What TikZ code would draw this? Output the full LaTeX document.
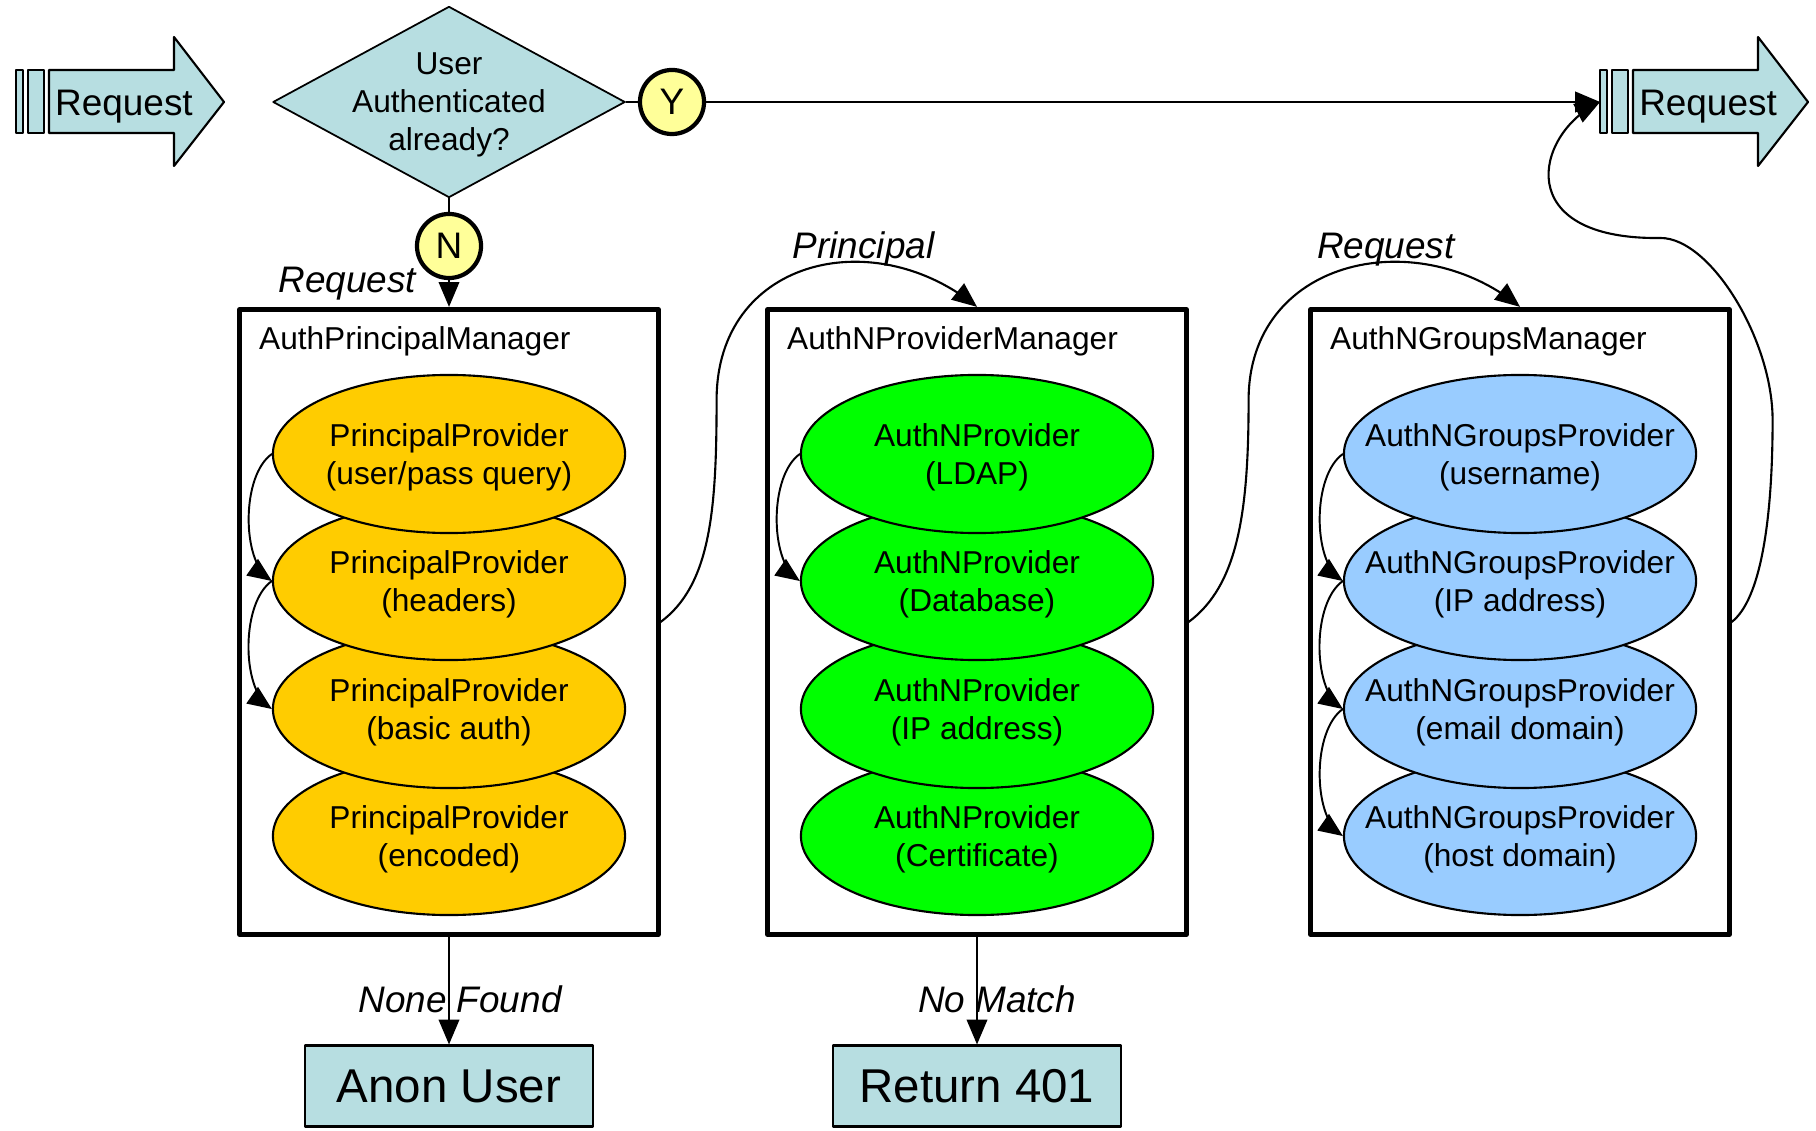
\documentclass[tikz,border=0pt]{standalone}
\usepackage{fontspec}
\setmainfont{Liberation Sans}
\usepackage{tikz}
\usetikzlibrary{arrows}
\usetikzlibrary{shapes}
\usetikzlibrary{positioning}
\usetikzlibrary{calc}

\definecolor{ReqTeal}{HTML}{B7DEE1}
\definecolor{PrinGold}{HTML}{FFCC00}
\definecolor{ProvGreen}{HTML}{00FF00}
\definecolor{GroupBlue}{HTML}{99CCFF}
\definecolor{PaleYellow}{HTML}{FFFF99}

\tikzset{
  reqshape/.style={draw=black,fill=ReqTeal,line width=0.6pt},
  reqtext/.style={inner sep=0pt,font=\fontsize{10.5}{12.6}\selectfont},
  decision/.style={diamond,draw=black,fill=ReqTeal,line width=0.5pt,aspect=1.84,
    minimum width=3.52cm,minimum height=1.91cm,inner sep=-4pt,text depth=-0.4pt,align=center,
    font=\fontsize{9}{10.8}\selectfont},
  yn/.style={circle,draw=black,fill=PaleYellow,line width=1.2pt,minimum size=0.64cm,
    inner sep=0pt,font=\fontsize{10.5}{12.6}\selectfont},
  mgr/.style={draw=black,fill=white,line width=1.4pt,minimum width=4.18cm,minimum height=6.25cm},
  mgrtitle/.style={anchor=west,inner sep=0pt,xshift=0.21cm,yshift=-0.345cm,
    font=\fontsize{9}{10.8}\selectfont},
  prov/.style={ellipse,draw=black,line width=0.6pt,minimum width=3.52cm,minimum height=1.58cm,
    inner xsep=-12pt,inner ysep=0pt,text depth=-1.4pt,align=center,font=\fontsize{9}{10.8}\selectfont},
  result/.style={draw=black,fill=ReqTeal,line width=0.6pt,minimum width=2.88cm,
    minimum height=0.81cm,font=\fontsize{13.5}{16}\selectfont},
  conn/.style={->,line width=0.6pt},
  link/.style={->,line width=0.55pt,looseness=0.75},
  elabel/.style={inner sep=0pt,font=\fontsize{10.5}{12.6}\selectfont\itshape}
}

\newcommand{\reqarrow}[2]{%
  \begin{scope}[shift={(#1,0)}]
    \draw[reqshape] (16,70) rectangle (23,133);
    \draw[reqshape] (28,70) rectangle (44,133);
    \draw[reqshape] (49,70) -- (174,70) -- (174,37) -- (224,102) -- (174,166) -- (174,133) -- (49,133) -- cycle;
    \node[reqtext] (#2) at (124,107) {Request};
    \coordinate (#2-in) at (16,102);
  \end{scope}}

\begin{document}
\begin{tikzpicture}[line cap=round,line join=round,>=triangle 45,x=0.01cm,y=-0.01cm]
\useasboundingbox (0,0) rectangle (1816,1131);
\reqarrow{0}{reqin}
\reqarrow{1584}{reqout}
\node[decision] (auth) at (449,102) {User\\Authenticated\\already?};
\node[yn] (yes) at (672,102) {Y};
\node[yn] (no) at (449,246) {N};
\node[mgr,label={[mgrtitle]north west:AuthPrincipalManager}] (apm) at (449,622) {};
\node[mgr,label={[mgrtitle]north west:AuthNProviderManager}] (npm) at (977,622) {};
\node[mgr,label={[mgrtitle]north west:AuthNGroupsManager}] (gpm) at (1520,622) {};
% providers, bottom one first
\node[prov,fill=PrinGold] (pp4) at (449,836) {PrincipalProvider\\(encoded)};
\node[prov,fill=PrinGold] (pp3) at (449,709) {PrincipalProvider\\(basic auth)};
\node[prov,fill=PrinGold] (pp2) at (449,581) {PrincipalProvider\\(headers)};
\node[prov,fill=PrinGold] (pp1) at (449,454) {PrincipalProvider\\(user/pass query)};
\node[prov,fill=ProvGreen] (np4) at (977,836) {AuthNProvider\\(Certificate)};
\node[prov,fill=ProvGreen] (np3) at (977,709) {AuthNProvider\\(IP address)};
\node[prov,fill=ProvGreen] (np2) at (977,581) {AuthNProvider\\(Database)};
\node[prov,fill=ProvGreen] (np1) at (977,454) {AuthNProvider\\(LDAP)};
\node[prov,fill=GroupBlue] (gp4) at (1520,836) {AuthNGroupsProvider\\(host domain)};
\node[prov,fill=GroupBlue] (gp3) at (1520,709) {AuthNGroupsProvider\\(email domain)};
\node[prov,fill=GroupBlue] (gp2) at (1520,581) {AuthNGroupsProvider\\(IP address)};
\node[prov,fill=GroupBlue] (gp1) at (1520,454) {AuthNGroupsProvider\\(username)};
\node[result] (anon) at (449,1086) {Anon User};
\node[result] (ret) at (977,1086) {Return 401};
\draw[line width=0.5pt] (auth.east) -- (yes.west);
\draw[line width=0.5pt] (auth.south) -- (no.north);
\draw[conn] (yes.east) -- (reqout-in);
\draw[conn] (no.south) -- node[at start,elabel,left=0.32cm,yshift=-0.035cm] {Request} (apm.north);
\draw[conn] (apm.south) -- node[pos=0.58,xshift=0.11cm,elabel] {None Found} (anon.north);
\draw[conn] (npm.south) -- node[pos=0.58,xshift=0.2cm,elabel] {No Match} (ret.north);
\draw[link] (pp1.west) to[out=215,in=145] (pp2.west);
\draw[link] (pp2.west) to[out=215,in=145] (pp3.west);
\draw[link] (np1.west) to[out=215,in=145] (np2.west);
\draw[link] (gp1.west) to[out=215,in=145] (gp2.west);
\draw[link] (gp2.west) to[out=215,in=145] (gp3.west);
\draw[link] (gp3.west) to[out=215,in=145] (gp4.west);
\draw[conn] (apm.east) .. controls +(50,-37) and +(0,110) .. ($(apm.east)+(56,-222)$)
  .. controls +(0,-140) and +(-106,-84) .. node[pos=0.67,above,elabel,yshift=-0.045cm] {Principal} (npm.north);
\draw[conn] (npm.east) .. controls +(50,-37) and +(0,110) .. ($(npm.east)+(60,-222)$)
  .. controls +(0,-140) and +(-106,-84) .. node[pos=0.62,above,elabel,yshift=-0.045cm] {Request} (gpm.north);
\draw[conn] (gpm.east) .. controls +(29,-22) and +(0,100) .. ($(gpm.east)+(41,-202)$)
  .. controls +(0,-80) and +(50,0) .. ($(gpm.east)+(-71,-384)$)
  .. controls +(-150,2) and +(-65,33) .. (reqout-in);
\end{tikzpicture}
\end{document}
